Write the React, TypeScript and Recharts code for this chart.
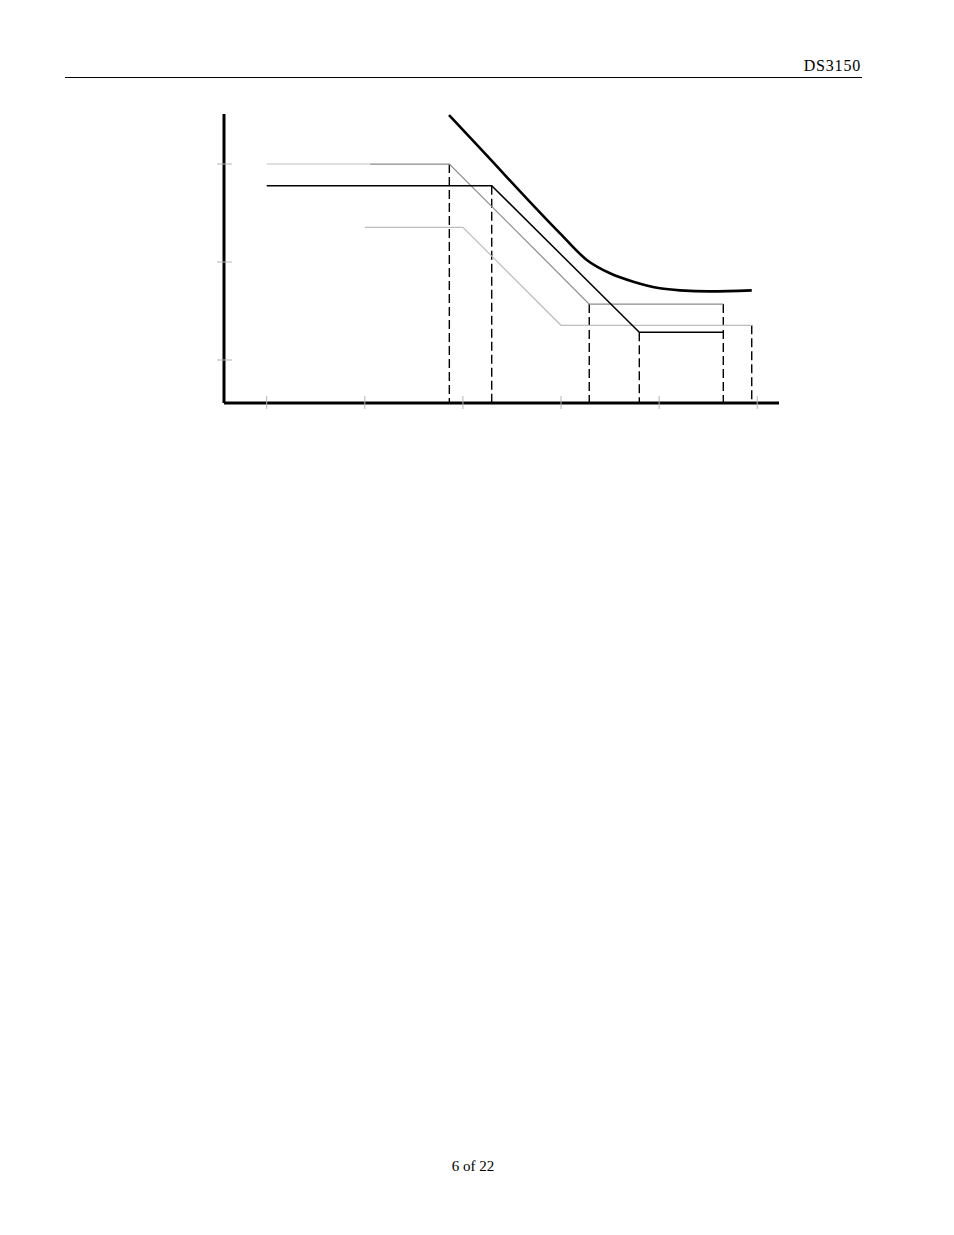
import React from 'react';
import { LineChart, Line, XAxis, YAxis } from 'recharts';

// Frequency (Hz) and jitter amplitude (UI), log–log
const xTicks = [10, 100, 1000, 10000, 100000, 1000000];
const yTicks = [0.1, 1, 10];
const xDomain = [3.67, 1667000];
const yDomain = [0.0364, 32.4];

const grayExtFreq = [10, 113];
const grayExtUI = [10, 10];

const grayMaskFreq = [113, 727, 19400, 451000];
const grayMaskUI = [10, 10, 0.372, 0.372];

const blackMaskFreq = [10, 1966, 62800, 451000];
const blackMaskUI = [6.0, 6.0, 0.192, 0.192];

const lightMaskFreq = [100, 1000, 10000, 879000];
const lightMaskUI = [2.26, 2.26, 0.226, 0.226];

const tolFreq = [721, 1493, 9772, 18300, 31600, 54600, 102000, 163000, 330000, 879000];
const tolUI = [31.6, 14.5, 1.96, 1.05, 0.767, 0.629, 0.539, 0.514, 0.502, 0.514];

const dashFreq = [727, 1966, 19400, 62800, 451000, 879000];
const dashTopUI = [10, 6.0, 0.372, 0.192, 0.372, 0.226];

const zip = (fs: number[], us: number[]) => fs.map((f, i) => ({ f, u: us[i] }));

const XTick = (p: any) => (
  <line x1={p.x} x2={p.x} y1={p.y - 7} y2={p.y + 6} stroke="#b4b4b4" strokeWidth={1} />
);
const YTick = (p: any) => (
  <line x1={p.x - 7} x2={p.x + 8} y1={p.y} y2={p.y} stroke="#b4b4b4" strokeWidth={1} />
);

export default function App() {
  const serif = '"Liberation Serif", "Times New Roman", serif';
  return (
    <div style={{ position: 'absolute', left: 0, top: 0, width: 954, height: 1235, background: '#fff' }}>
      <div
        style={{
          position: 'absolute', left: 700, top: 56.5, width: 161, textAlign: 'right',
          fontFamily: serif, fontSize: 16, lineHeight: '18px', letterSpacing: 0.8, color: '#000',
        }}
      >
        DS3150
      </div>
      <div style={{ position: 'absolute', left: 65, top: 76.5, width: 797, height: 1.4, background: '#000' }} />
      <div style={{ position: 'absolute', left: 0, top: 0 }}>
        <LineChart width={954} height={450} margin={{ top: 114, right: 175, bottom: 37, left: 214 }}>
          <XAxis
            dataKey="f"
            type="number"
            scale="log"
            domain={xDomain}
            allowDataOverflow
            ticks={xTicks}
            height={10}
            tickSize={0}
            tickMargin={0}
            tickLine={false}
            tick={XTick}
            axisLine={{ stroke: '#000', strokeWidth: 3 }}
            interval={0}
          />
          <YAxis
            type="number"
            scale="log"
            domain={yDomain}
            allowDataOverflow
            ticks={yTicks}
            width={10}
            tickSize={0}
            tickMargin={0}
            tickLine={false}
            tick={YTick}
            axisLine={{ stroke: '#000', strokeWidth: 3 }}
            interval={0}
          />
          {dashFreq.map((f, i) => (
            <Line
              key={'d' + i}
              data={zip([f, f], [dashTopUI[i], yDomain[0]])}
              dataKey="u"
              type="linear"
              stroke="#000"
              strokeWidth={1.4}
              strokeDasharray="9 4"
              dot={false}
              activeDot={false}
              isAnimationActive={false}
            />
          ))}
          <Line data={zip(grayExtFreq, grayExtUI)} dataKey="u" type="linear" stroke="#d4d4d4" strokeWidth={1.4} dot={false} activeDot={false} isAnimationActive={false} />
          <Line data={zip(lightMaskFreq, lightMaskUI)} dataKey="u" type="linear" stroke="#bdbdbd" strokeWidth={1.2} dot={false} activeDot={false} isAnimationActive={false} />
          <Line data={zip(grayMaskFreq, grayMaskUI)} dataKey="u" type="linear" stroke="#8a8a8a" strokeWidth={1.2} dot={false} activeDot={false} isAnimationActive={false} />
          <Line data={zip(blackMaskFreq, blackMaskUI)} dataKey="u" type="linear" stroke="#000" strokeWidth={1.5} dot={false} activeDot={false} isAnimationActive={false} />
          <Line data={zip(tolFreq, tolUI)} dataKey="u" type="monotone" stroke="#000" strokeWidth={2.6} dot={false} activeDot={false} isAnimationActive={false} />
        </LineChart>
      </div>
      <div
        style={{
          position: 'absolute', left: 373, top: 1158, width: 200, textAlign: 'center',
          fontFamily: serif, fontSize: 15, lineHeight: '17px', color: '#000',
        }}
      >
        6 of 22
      </div>
    </div>
  );
}
